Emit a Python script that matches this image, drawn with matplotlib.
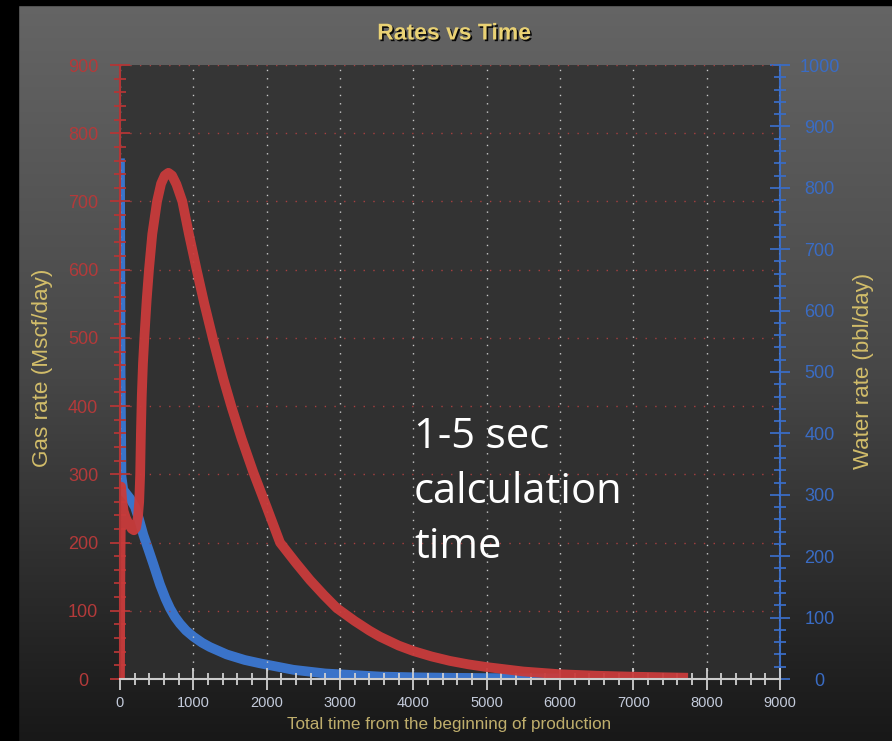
import numpy as np
import matplotlib
matplotlib.use('Agg')
import matplotlib.pyplot as plt
from matplotlib import patheffects as pe
from matplotlib.ticker import MultipleLocator
from matplotlib.colors import LinearSegmentedColormap

# gas rate, Mscf/day (left axis)
gas_t = [0, 5, 15, 30, 50, 80, 120, 160, 190, 220, 245, 262, 275, 285, 297, 313,
         332, 364, 396, 440, 505, 560, 610, 660, 710, 770, 850, 940, 1045, 1150,
         1273, 1409, 1523, 1659, 1818, 2000, 2182, 2400, 2591, 2780, 2955, 3200,
         3400, 3545, 3800, 4000, 4250, 4500, 4750, 5000, 5500, 6000, 6500, 7000, 7680]
gas_rate = [0, 150, 282, 262, 246, 236, 227, 220, 218, 222, 238, 260, 300, 360, 415, 462,
            500, 556, 601, 652, 700, 726, 738, 742, 738, 725, 700, 652, 600, 550,
            496, 440, 398, 352, 303, 252, 200, 170, 145, 123, 104, 85,
            71, 62, 49, 41, 33, 26.5, 21.5, 17.5, 11, 7, 4.8, 3.4, 2]

# water rate, bbl/day (right axis)
water_t = [0, 8, 20, 45, 136, 205, 260, 318, 390, 455, 545, 620, 682, 750, 818,
           900, 1000, 1120, 1227, 1455, 1700, 1910, 2364, 2800, 3545, 4000, 4500,
           5000, 5500, 5950]
water_rate = [840, 500, 330, 308, 294, 280, 260, 235, 210, 187, 154, 131, 115, 101, 90,
              79, 69, 59, 52, 40, 31, 25.5, 15, 9, 4, 2.8, 2, 1.5, 1.2, 1]

x_ticks = np.arange(0, 9001, 1000)
gas_ticks = np.arange(0, 901, 100)
water_ticks = np.arange(0, 1001, 100)

RED = '#c93b3b'
BLUE = '#3b78d3'
GOLD = '#d2bd6a'

plt.rcParams['font.family'] = ['Liberation Sans', 'DejaVu Sans']

W, H = 892, 741
fig = plt.figure(figsize=(W / 100, H / 100), dpi=100)

# figure background gradient
bg = fig.add_axes([0, 0, 1, 1], zorder=-10)
grad = np.linspace(0, 1, 256).reshape(-1, 1)
cmap_bg = LinearSegmentedColormap.from_list('bg', ['#656565', '#474747', '#181818'])
bg.imshow(grad, aspect='auto', cmap=cmap_bg, extent=[0, 1, 0, 1])
bg.add_patch(plt.Rectangle((0, 1 - 5 / H), 1, 5 / H, color='black'))
bg.add_patch(plt.Rectangle((0, 0), 18 / W, 1, color='black'))
bg.set_xlim(0, 1)
bg.set_ylim(0, 1)
bg.axis('off')

rect = [120 / W, 62 / H, 660 / W, 614 / H]

# panel background
panel = fig.add_axes(rect, zorder=-5)
cmap_p = LinearSegmentedColormap.from_list('p', ['#363636', '#2d2d2d'])
panel.imshow(grad, aspect='auto', cmap=cmap_p, extent=[0, 1, 0, 1])
panel.set_xlim(0, 1)
panel.set_ylim(0, 1)
panel.axis('off')

ax = fig.add_axes(rect, zorder=2)
ax2 = ax.twinx()
ax2.set_zorder(1)
ax.patch.set_visible(False)
ax2.patch.set_visible(False)

ax.plot(gas_t, gas_rate, color=RED, lw=7, alpha=0.95, solid_joinstyle='round')
ax2.plot(water_t, water_rate, color=BLUE, lw=7, alpha=0.95, solid_joinstyle='round')

ax.set_xlim(0, 9000)
ax.set_ylim(0, 900)
ax2.set_ylim(0, 1000)
ax.set_xticks(x_ticks)
ax.set_yticks(gas_ticks)
ax2.set_yticks(water_ticks)
ax.xaxis.set_minor_locator(MultipleLocator(200))
ax.yaxis.set_minor_locator(MultipleLocator(20))
ax2.yaxis.set_minor_locator(MultipleLocator(20))

ax.grid(axis='x', color='#c8c8c8', linestyle=(0, (1, 5)), lw=1.0)
ax.grid(axis='y', color='#a84040', linestyle=(0, (1, 6)), lw=1.0)

for a in (ax, ax2):
    a.spines['top'].set_visible(False)
ax.spines['right'].set_visible(False)
ax2.spines['left'].set_visible(False)
ax2.spines['bottom'].set_visible(False)
ax.spines['left'].set_color('#b33636')
ax.spines['left'].set_linewidth(1.5)
ax.spines['bottom'].set_color('#cccccc')
ax.spines['bottom'].set_linewidth(1.5)
ax2.spines['right'].set_color('#3a6cc4')
ax2.spines['right'].set_linewidth(1.5)

ax.tick_params(axis='x', which='major', direction='inout', length=16, width=1.3,
               color='#d0d0d0', labelcolor='#c4cbdb', labelsize=10.5, pad=4)
ax.tick_params(axis='x', which='minor', direction='inout', length=9, width=1.3,
               color='#d0d0d0')
ax.tick_params(axis='y', which='major', direction='inout', length=15, width=1.3,
               color='#b33636', labelcolor='#b33a3a', labelsize=13, pad=19)
ax.tick_params(axis='y', which='minor', direction='inout', length=8, width=1.3,
               color='#b33636')
ax2.tick_params(axis='y', which='major', direction='inout', length=15, width=1.3,
                color='#3a6cc4', labelcolor='#3a6cc4', labelsize=13, pad=21)
ax2.tick_params(axis='y', which='minor', direction='inout', length=8, width=1.3,
                color='#3a6cc4')
for lab in ax.get_yticklabels():
    lab.set_ha('center')
for lab in ax2.get_yticklabels():
    lab.set_ha('center')

shadow = [pe.withSimplePatchShadow(offset=(1.2, -1.2), shadow_rgbFace='black', alpha=0.9)]
fig.text(454 / W, 1 - 33 / H, 'Rates vs Time', color='#ead274', fontsize=16.5,
         fontweight='bold', ha='center', va='center', path_effects=shadow)
fig.text(449 / W, 1 - 725 / H, 'Total time from the beginning of production',
         color='#bfae6c', fontsize=12.3, ha='center', va='center')
fig.text(43 / W, 1 - 368 / H, 'Gas rate (Mscf/day)', color=GOLD, fontsize=16.2,
         rotation=90, ha='center', va='center')
fig.text(863 / W, 1 - 371 / H, 'Water rate (bbl/day)', color=GOLD, fontsize=16,
         rotation=90, ha='center', va='center')

fig.text(414 / W, 1 - 416 / H, '1-5 sec\ncalculation\ntime', color='white',
         fontsize=30, family=['Open Sans', 'DejaVu Sans'], ha='left', va='top',
         linespacing=1.4)

fig.savefig('out.png', dpi=100)
